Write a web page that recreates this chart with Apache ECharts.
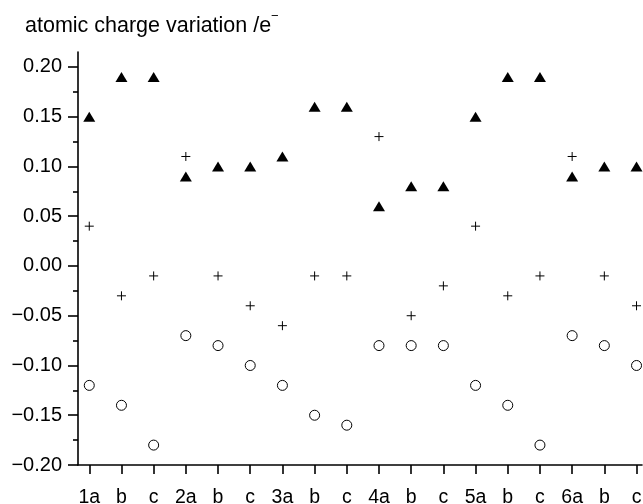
<!DOCTYPE html>
<html>
<head>
<meta charset="utf-8">
<script src="https://cdn.jsdelivr.net/npm/echarts@6/dist/echarts.min.js"></script>
<style>html,body{margin:0;padding:0;background:#fff}#c{width:643px;height:504px}</style>
</head>
<body>
<div id="c"></div>
<script>
var categories = ['1a','b','c','2a','b','c','3a','b','c','4a','b','c','5a','b','c','6a','b','c'];
var triangleValues = [0.15,0.19,0.19,0.09,0.10,0.10,0.11,0.16,0.16,0.06,0.08,0.08,0.15,0.19,0.19,0.09,0.10,0.10];
var plusValues = [0.04,-0.03,-0.01,0.11,-0.01,-0.04,-0.06,-0.01,-0.01,0.13,-0.05,-0.02,0.04,-0.03,-0.01,0.11,-0.01,-0.04];
var circleValues = [-0.12,-0.14,-0.18,-0.07,-0.08,-0.10,-0.12,-0.15,-0.16,-0.08,-0.08,-0.08,-0.12,-0.14,-0.18,-0.07,-0.08,-0.10];
var yMajorTicks = [-0.20,-0.15,-0.10,-0.05,0.00,0.05,0.10,0.15,0.20];
var yMinorTicks = [-0.175,-0.125,-0.075,-0.025,0.025,0.075,0.125,0.175];
var titleText = 'atomic charge variation /e';
var titleSup = '\u2212';

var FONT = '"Liberation Sans", Arial, sans-serif';
function pts(vals){ return vals.map(function(v,i){ return [i, v]; }); }
var xIdx = categories.map(function(c,i){ return i; });

var chart = echarts.init(document.getElementById('c'), null, {renderer:'canvas'});
chart.setOption({
  animation: false,
  backgroundColor: '#fff',
  title: [{
    text: titleText, left: 25, top: 15, padding: 0,
    textStyle: { fontFamily: FONT, fontSize: 21.5, fontWeight: 'normal', color: '#000' }
  },{
    text: titleSup, left: 271, top: 10, padding: 0,
    textStyle: { fontFamily: FONT, fontSize: 13, fontWeight: 'normal', color: '#000' }
  }],
  grid: { left: 78, right: 1, top: 52, bottom: 39, containLabel: false, outerBoundsMode: 'none' },
  xAxis: {
    type: 'value', min: -0.35, max: 17.17,
    splitLine: { show: false },
    axisLine: { show: true, onZero: false, lineStyle: { color: '#000', width: 1.6 } },
    axisTick: { show: true, length: 9, customValues: xIdx, lineStyle: { color: '#000', width: 1.6 } },
    axisLabel: {
      customValues: xIdx, margin: 23, color: '#000', fontFamily: FONT, fontSize: 19.5,
      formatter: function(v){ return categories[Math.round(v)]; }
    }
  },
  yAxis: [{
    type: 'value', min: -0.2, max: 0.215, position: 'left',
    splitLine: { show: false },
    axisLine: { show: true, onZero: false, lineStyle: { color: '#000', width: 1.6 } },
    axisTick: { show: true, length: 10, customValues: yMajorTicks, lineStyle: { color: '#000', width: 1.6 } },
    axisLabel: {
      customValues: yMajorTicks, margin: 16, color: '#000', fontFamily: FONT, fontSize: 20,
      formatter: function(v){ var s = Math.abs(v).toFixed(2); return (v < -1e-9 ? '\u2212' : '') + s; }
    }
  },{
    type: 'value', min: -0.2, max: 0.215, position: 'left', offset: 0,
    splitLine: { show: false },
    axisLine: { show: false, onZero: false },
    axisTick: { show: true, length: 5, customValues: yMinorTicks, lineStyle: { color: '#000', width: 1.6 } },
    axisLabel: { show: false }
  }],
  series: [{
    type: 'scatter', name: 'triangle', data: pts(triangleValues),
    symbol: 'triangle', symbolSize: [12, 10],
    itemStyle: { color: '#000', opacity: 1 }
  },{
    type: 'scatter', name: 'plus', data: pts(plusValues),
    symbol: 'path://M0,5H10M5,0V10', symbolSize: 9,
    itemStyle: { color: 'none', borderColor: '#000', borderWidth: 1, opacity: 1 }
  },{
    type: 'scatter', name: 'circle', data: pts(circleValues),
    symbol: 'circle', symbolSize: 10,
    itemStyle: { color: '#fff', borderColor: '#000', borderWidth: 1, opacity: 1 }
  }]
});
</script>
</body>
</html>
